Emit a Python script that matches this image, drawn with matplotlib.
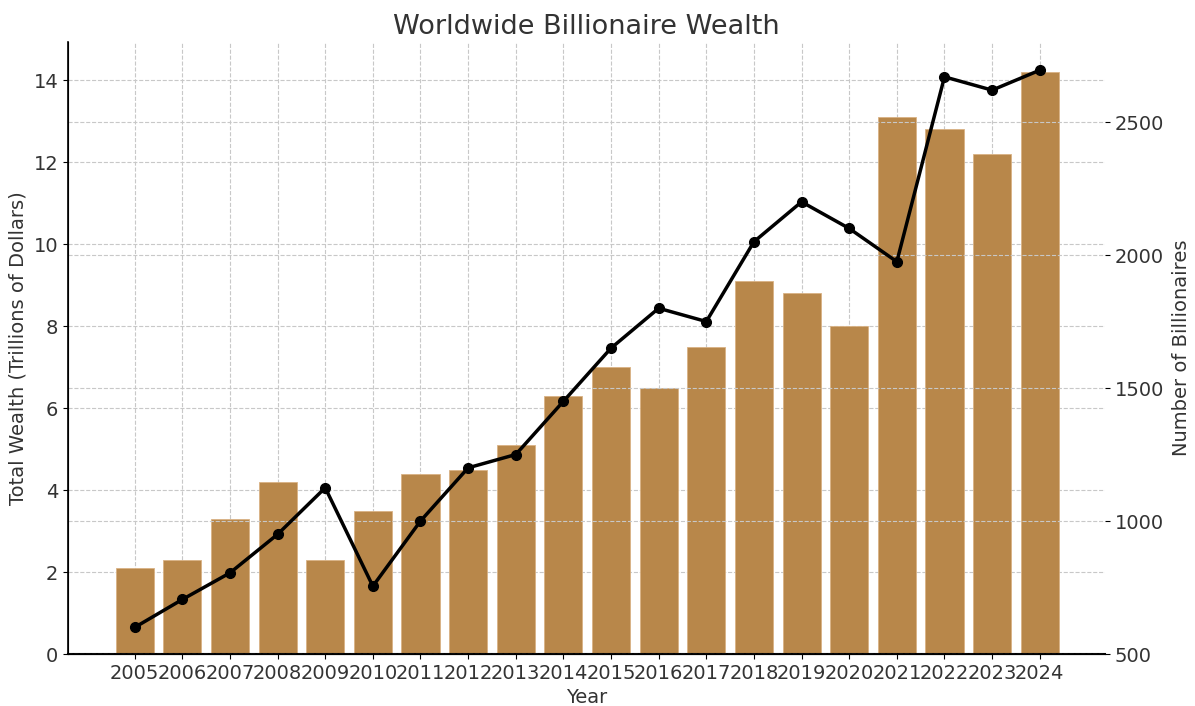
import numpy as np
import matplotlib
matplotlib.use("Agg")
import matplotlib.pyplot as plt

# datos
anios = [2005, 2006, 2007, 2008, 2009, 2010, 2011, 2012, 2013, 2014,
         2015, 2016, 2017, 2018, 2019, 2020, 2021, 2022, 2023, 2024]
riqueza = [2.1, 2.3, 3.3, 4.2, 2.3, 3.5, 4.4, 4.5, 5.1, 6.3,
           7.0, 6.5, 7.5, 9.1, 8.8, 8.0, 13.1, 12.8, 12.2, 14.2]
billonarios = [600, 705, 805, 950, 1125, 755, 1000, 1200, 1250, 1450,
               1650, 1800, 1750, 2050, 2200, 2100, 1975, 2670, 2620, 2695]

texto = "#333333"
fig = plt.figure(figsize=(11.95, 7.06), dpi=100)
ax = fig.add_axes([68/1195, 52/706, (1105-68)/1195, (654-42)/706])

ax.bar(anios, riqueza, width=0.8, color="#b8874a", edgecolor="#d9b284", linewidth=0.6)
ax.set_xlim(2003.6, 2025.37)
ax.set_ylim(0, 14.93)
ax.set_xticks(anios)
ax.set_xticklabels([str(a) for a in anios])
ax.set_xlabel("Year", fontsize=14, color=texto)
ax.set_ylabel("Total Wealth (Trillions of Dollars)", fontsize=14, color=texto)
ax.set_title("Worldwide Billionaire Wealth", fontsize=19.5, color=texto)
ax.grid(True, linestyle="--", color="#c8c8c8", linewidth=0.8)
ax.set_axisbelow(True)

ax2 = ax.twinx()
ax2.plot(anios, billonarios, color="black", linewidth=2.5, marker="o", markersize=7)
ax2.set_ylim(500, 2801)
ax2.set_yticks([500, 1000, 1500, 2000, 2500])
ax2.set_ylabel("Number of Billionaires", fontsize=14, color=texto, labelpad=6)
ax2.grid(True, linestyle="--", color="#c8c8c8", linewidth=0.8)

for a in (ax, ax2):
    a.spines["top"].set_visible(False)
    a.spines["right"].set_visible(False)
    a.tick_params(labelsize=14, labelcolor=texto)
ax.spines["bottom"].set_linewidth(1.5)
ax.spines["left"].set_linewidth(1.2)

fig.savefig("out.png", dpi=100)
